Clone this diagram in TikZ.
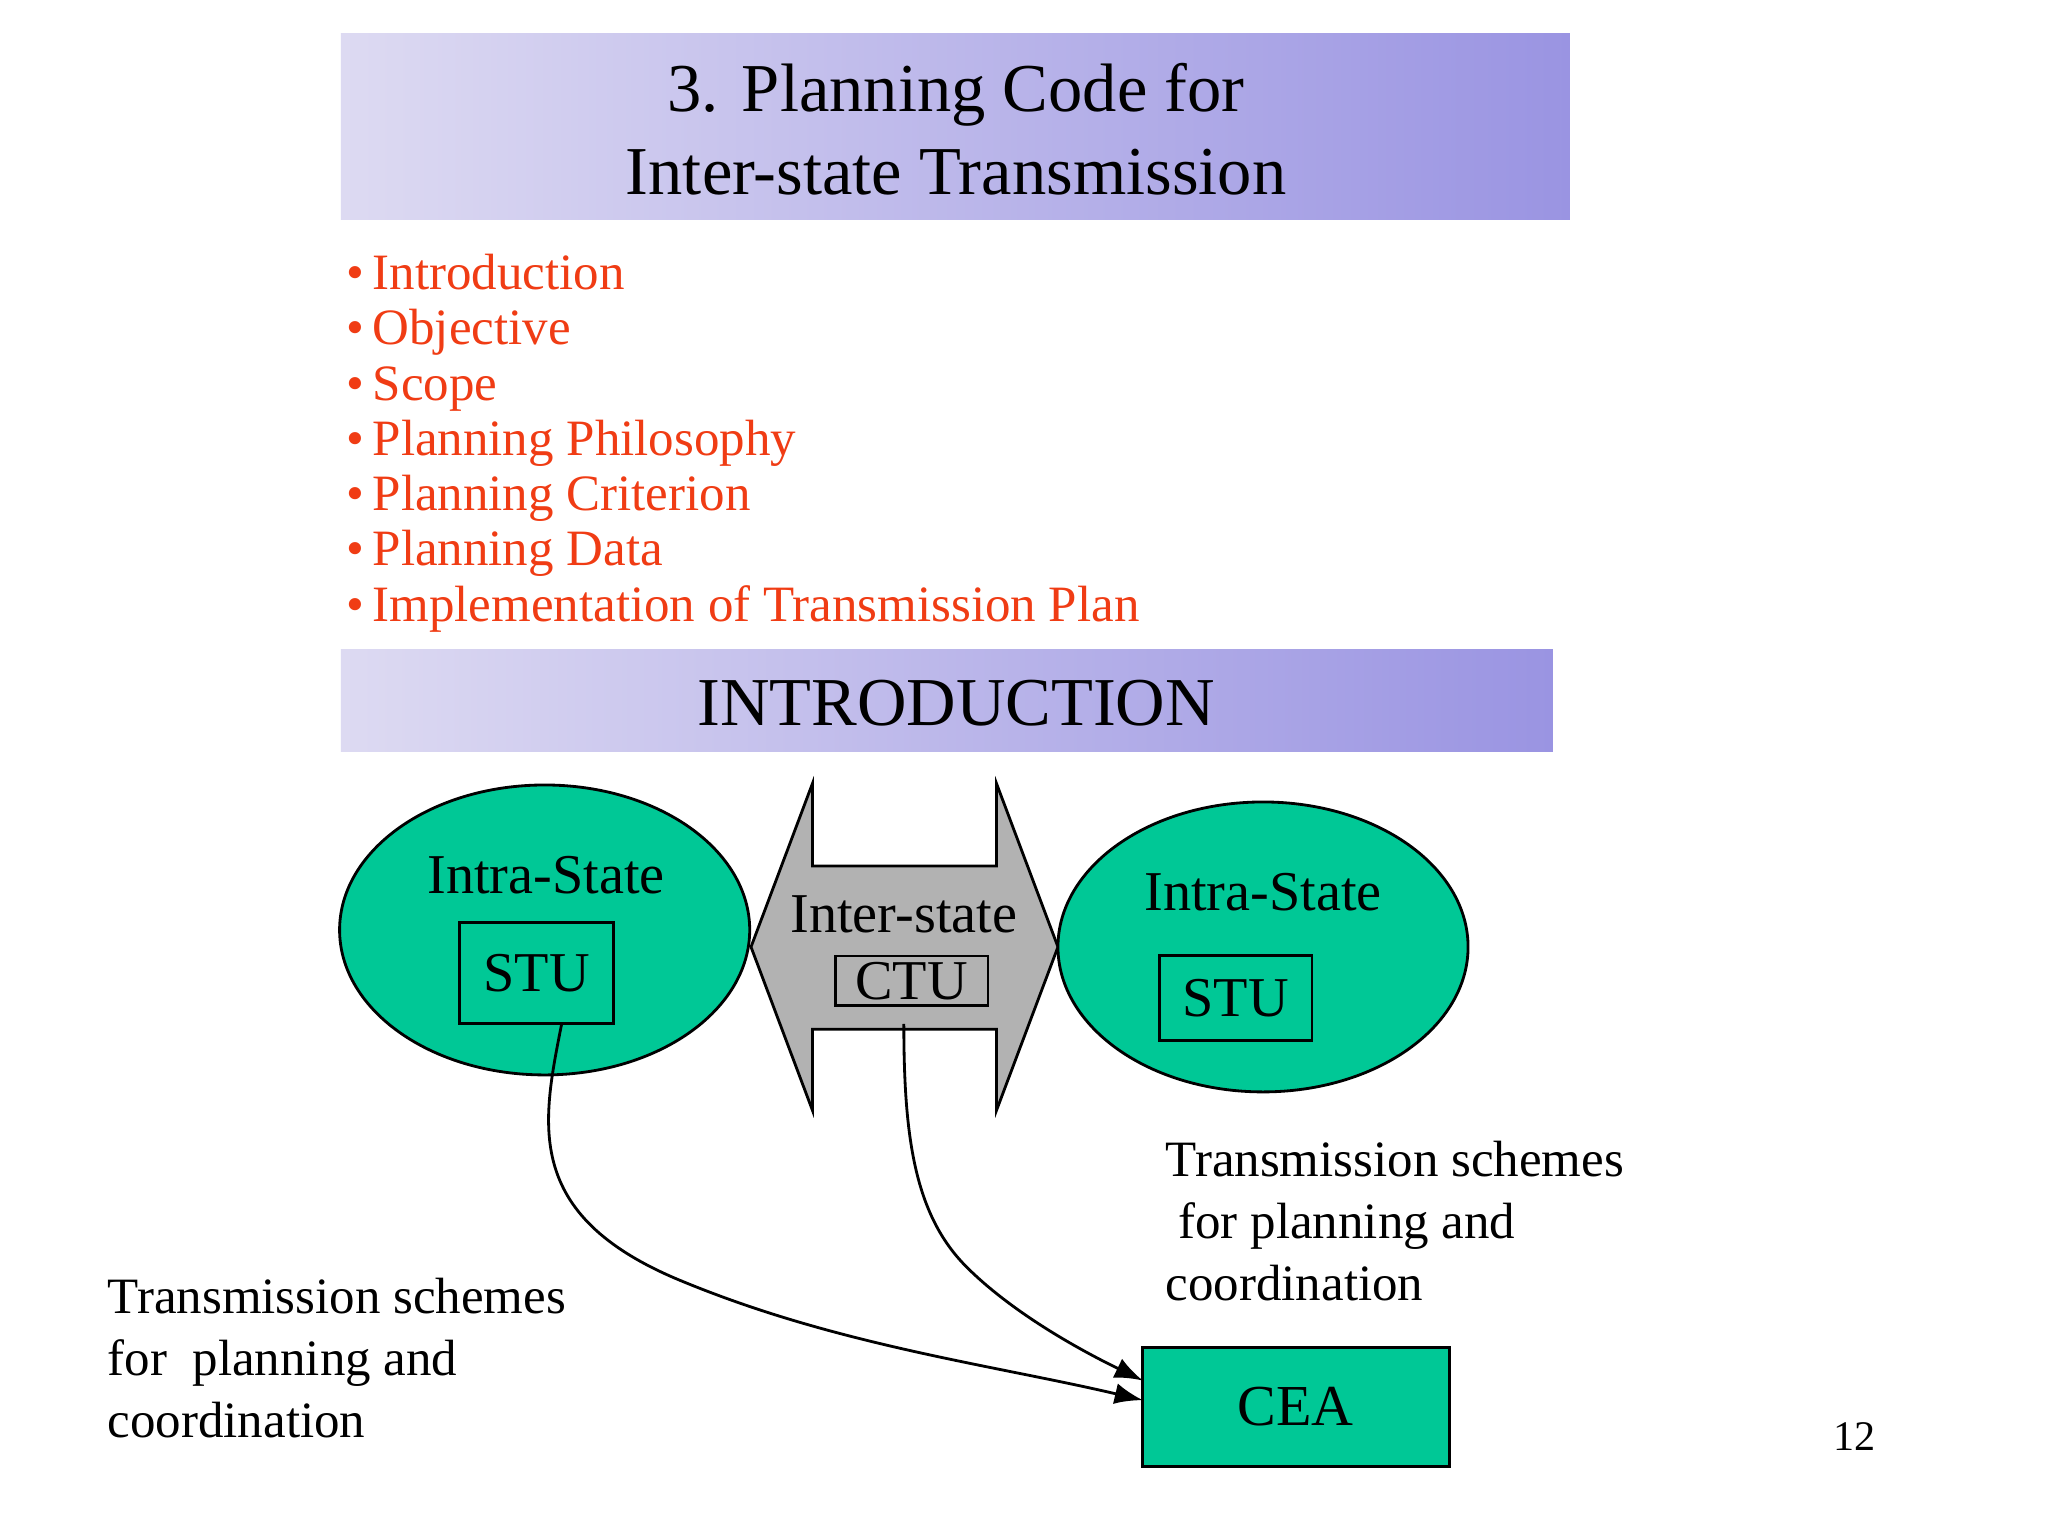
\documentclass[tikz,border=0pt]{standalone}
\usepackage{fontspec}
\setmainfont{Liberation Serif}
\usetikzlibrary{arrows.meta}
\definecolor{ban1}{HTML}{DDDAF2}
\definecolor{ban2}{HTML}{9A94E2}
\definecolor{grn}{HTML}{00C896}
\definecolor{red}{HTML}{F03C14}
\begin{document}
\begin{tikzpicture}[x=0.01306cm,y=-0.01306cm,
  banner/.style={left color=ban1,right color=ban2,draw=none},
  box/.style={draw=black,thick},
  bul/.style={anchor=west,text=red,text height=10pt,text depth=3pt,inner sep=1pt,font=\fontsize{14.5}{14.5}\selectfont},
  lab/.style={font=\fontsize{16}{16}\selectfont},
  txt/.style={anchor=west,align=left,font=\fontsize{14.5}{17.6}\selectfont},
  arr/.style={thick,-{Latex[length=8pt,width=6pt]}}]
\useasboundingbox (0,0) rectangle (1568,1176);
\fill[white] (0,0) rectangle (1568,1176);
\shade[banner] (261,26) rectangle (1202,168);
\node[align=center,font=\fontsize{19.5}{23.5}\selectfont] (title) at (732,99) {3. Planning Code for\\Inter-state Transmission};
\foreach \t [count=\i] in {Introduction,Objective,Scope,Planning Philosophy,Planning Criterion,Planning Data,Implementation of Transmission Plan}
  \node[bul] (b\i) at (262,{170+42.3*\i}) {\textbullet\,\t};
\shade[banner] (261,497) rectangle (1189,575);
\node[font=\fontsize{19.5}{19.5}\selectfont] (intro) at (732,538) {INTRODUCTION};
\fill[grn,draw=black,thick] (417,712) ellipse [x radius=157,y radius=111];
\node[lab] (is1) at (418,670) {Intra-State};
\node[box,lab,minimum width=118*0.01306cm,minimum height=77*0.01306cm] (stu1) at (411,745) {STU};
\fill[gray!60,draw=black,thick] (575,725) -- (622,600) -- (622,663) -- (763,663) -- (763,600) -- (810,725) -- (763,850) -- (763,788) -- (622,788) -- (622,850) -- cycle;
\node[lab] (inter) at (692,700) {Inter-state};
\node[box,lab,minimum width=117*0.01306cm,minimum height=38*0.01306cm,inner sep=0pt] (ctu) at (698,751) {CTU};
\fill[grn,draw=black,thick] (967,725) ellipse [x radius=157,y radius=111];
\node[lab] (is2) at (967,683) {Intra-State};
\node[box,lab,minimum width=117*0.01306cm,minimum height=65*0.01306cm] (stu2) at (946,764) {STU};
\node[box,fill=grn,font=\fontsize{16.5}{16.5}\selectfont,minimum width=235*0.01306cm,minimum height=91*0.01306cm] (cea) at (992,1077) {CEA};
\coordinate (c1) at (875,1072);
\coordinate (c2) at (875,1057);
\draw[arr] (430,784) .. controls (415,860) and (400,930) .. (520,980) .. controls (640,1030) and (760,1045) .. (c1);
\draw[arr] (692,784) .. controls (692,870) and (700,930) .. (740,970) .. controls (780,1010) and (840,1040) .. (c2);
\node[txt] (t1) at (73,1040) {Transmission schemes\\for\ \ planning and\\coordination};
\node[txt] (t2) at (883,935) {Transmission schemes\\\ for planning and\\coordination};
\node[font=\fontsize{12}{12}\selectfont] (pg) at (1420,1100) {12};
\end{tikzpicture}
\end{document}
